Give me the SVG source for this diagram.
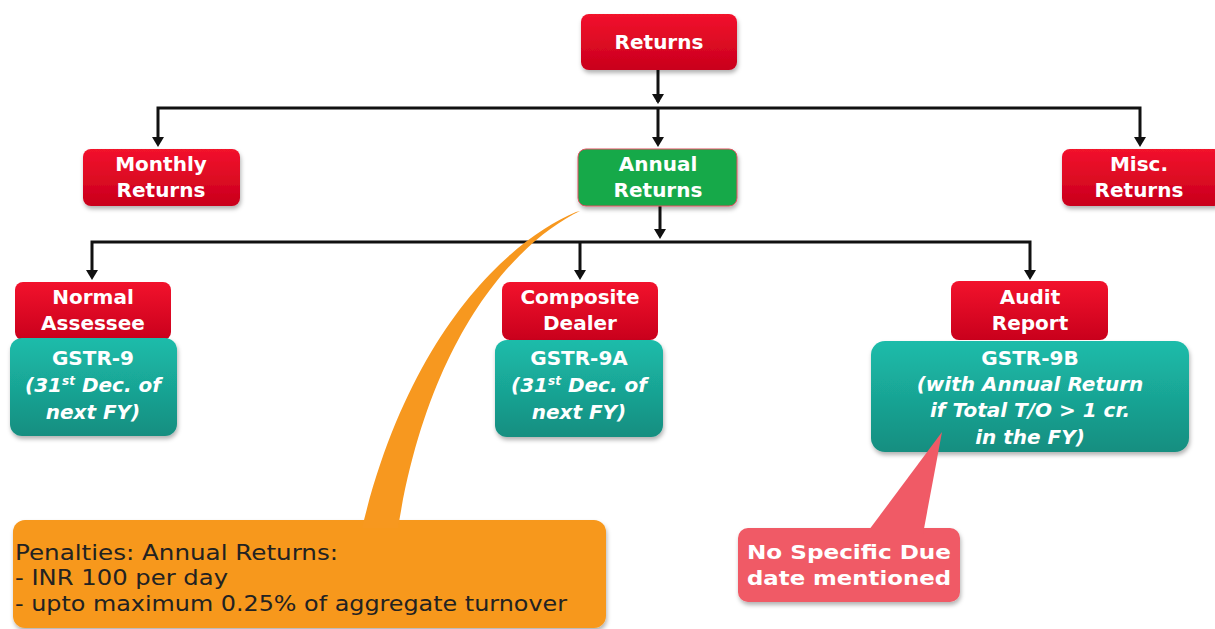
<svg xmlns="http://www.w3.org/2000/svg" width="1215" height="629" viewBox="0 0 1215 629">
<style>
.lbl{font-family:"DejaVu Sans","Noto Sans",sans-serif;font-weight:bold;font-size:20px;fill:#fff;text-anchor:middle}
.it{font-style:italic}
.pen{font-family:"DejaVu Sans","Noto Sans",sans-serif;font-size:21px;fill:#222}
.ln{stroke:#111;stroke-width:3;fill:none}
.ah{fill:#111}
</style>
<defs>
<linearGradient id="gr" x1="0" y1="0" x2="0" y2="1"><stop offset="0" stop-color="#f2122c"/><stop offset="1" stop-color="#c9001c"/></linearGradient>
<linearGradient id="gt" x1="0" y1="0" x2="0" y2="1"><stop offset="0" stop-color="#1cbcaa"/><stop offset="1" stop-color="#168e80"/></linearGradient>
<filter id="sh" x="-10%" y="-10%" width="130%" height="130%"><feDropShadow dx="1" dy="3" stdDeviation="2" flood-color="#000" flood-opacity="0.3"/></filter>
</defs>
<g id="connectors">
<path class="ln" d="M658 70 V102"/><path class="ah" d="M652 94 L664 94 L658 104 Z"/>
<path class="ln" d="M158 138 V108 H1140 V138"/>
<path class="ln" d="M658 108 V138"/>
<path class="ah" d="M152 137 L164 137 L158 147 Z"/>
<path class="ah" d="M652 137 L664 137 L658 147 Z"/>
<path class="ah" d="M1134 137 L1146 137 L1140 147 Z"/>
<path class="ln" d="M660 206 V236"/><path class="ah" d="M654 229 L666 229 L660 239 Z"/>
<path class="ln" d="M92 272 V242 H1030 V272"/>
<path class="ln" d="M580 242 V272"/>
<path class="ah" d="M86 270 L98 270 L92 280 Z"/>
<path class="ah" d="M574 270 L586 270 L580 280 Z"/>
<path class="ah" d="M1024 270 L1036 270 L1030 280 Z"/>
</g>
<g id="returns"><rect x="581" y="14" width="156" height="56" rx="8" fill="url(#gr)" filter="url(#sh)"/><text class="lbl" x="659" y="49">Returns</text></g>
<g id="monthly"><rect x="83" y="149" width="157" height="57" rx="8" fill="url(#gr)" filter="url(#sh)"/><text class="lbl" x="161" y="171">Monthly</text><text class="lbl" x="161" y="197">Returns</text></g>
<g id="annual"><rect x="578" y="149" width="159" height="57" rx="8" fill="#17a94a" stroke="#e05060" stroke-width="1" filter="url(#sh)"/><text class="lbl" x="658" y="171">Annual</text><text class="lbl" x="658" y="197">Returns</text></g>
<g id="misc"><rect x="1062" y="149" width="160" height="57" rx="8" fill="url(#gr)" filter="url(#sh)"/><text class="lbl" x="1139" y="171">Misc.</text><text class="lbl" x="1139" y="197">Returns</text></g>
<g id="normal"><rect x="15" y="282" width="156" height="58" rx="8" fill="url(#gr)"/><text class="lbl" x="93" y="304">Normal</text><text class="lbl" x="93" y="330">Assessee</text></g>
<g id="gstr9"><rect x="10" y="338" width="167" height="98" rx="12" fill="url(#gt)" filter="url(#sh)"/><text class="lbl" x="93" y="365">GSTR-9</text><text class="lbl it" x="93" y="392">(31<tspan font-size="12" dy="-7">st</tspan><tspan dy="7"> Dec. of</tspan></text><text class="lbl it" x="93" y="419">next FY)</text></g>
<g id="composite"><rect x="502" y="282" width="156" height="58" rx="8" fill="url(#gr)"/><text class="lbl" x="580" y="304">Composite</text><text class="lbl" x="580" y="330">Dealer</text></g>
<g id="gstr9a"><rect x="495" y="340" width="168" height="97" rx="12" fill="url(#gt)" filter="url(#sh)"/><text class="lbl" x="579" y="365">GSTR-9A</text><text class="lbl it" x="579" y="392">(31<tspan font-size="12" dy="-7">st</tspan><tspan dy="7"> Dec. of</tspan></text><text class="lbl it" x="579" y="419">next FY)</text></g>
<g id="audit"><rect x="951" y="281" width="157" height="59" rx="8" fill="url(#gr)"/><text class="lbl" x="1030" y="304">Audit</text><text class="lbl" x="1030" y="330">Report</text></g>
<g id="gstr9b"><rect x="871" y="341" width="318" height="111" rx="14" fill="url(#gt)" filter="url(#sh)"/><text class="lbl" x="1030" y="365">GSTR-9B</text><text class="lbl it" x="1030" y="391">(with Annual Return</text><text class="lbl it" x="1030" y="417">if Total T/O &gt; 1 cr.</text><text class="lbl it" x="1030" y="444">in the FY)</text></g>
<g id="penalties">
<rect x="13" y="520" width="593" height="108" rx="12" fill="#f7981f" filter="url(#sh)"/>
<path d="M580 211 C520 240 430 330 398 528 L362 528 C410 330 510 240 576 212 Z" fill="#f7981f"/>
<text class="pen" x="15" y="560" textLength="323" lengthAdjust="spacingAndGlyphs">Penalties: Annual Returns:</text>
<text class="pen" x="15" y="585" textLength="213" lengthAdjust="spacingAndGlyphs">- INR 100 per day</text>
<text class="pen" x="15" y="611" textLength="552" lengthAdjust="spacingAndGlyphs">- upto maximum 0.25% of aggregate turnover</text>
</g>
<g id="nodue">
<rect x="738" y="528" width="222" height="74" rx="10" fill="#f05a66" filter="url(#sh)"/>
<path d="M942 432 L923 534 L866 534 Z" fill="#f05a66"/>
<text class="lbl" x="849" y="559" textLength="204" lengthAdjust="spacingAndGlyphs">No Specific Due</text>
<text class="lbl" x="849" y="585" textLength="204" lengthAdjust="spacingAndGlyphs">date mentioned</text>
</g>
</svg>
